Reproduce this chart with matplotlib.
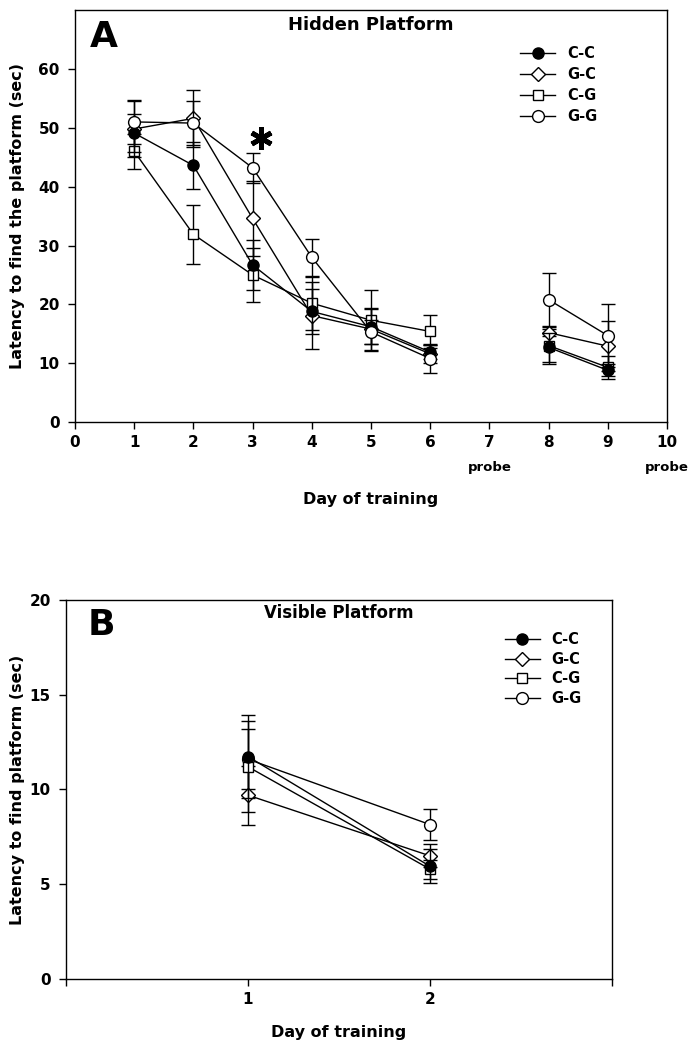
import numpy as np
import matplotlib.pyplot as plt
from matplotlib.lines import Line2D
from matplotlib.transforms import blended_transform_factory

# Panel A: hidden platform (day 7 = probe, no data)
days_a = [1, 2, 3, 4, 5, 6, 7, 8, 9]
cc_a = [49.1, 43.6, 26.7, 18.8, 16.2, 11.9, np.nan, 12.7, 8.8]
cc_a_sem = [3.2, 4.0, 4.3, 3.8, 3.0, 1.2, np.nan, 2.5, 1.0]
gc_a = [49.8, 51.6, 34.6, 18.1, 15.8, 11.6, np.nan, 15.2, 12.9]
gc_a_sem = [4.8, 4.9, 6.4, 5.7, 3.6, 1.5, np.nan, 0.6, 4.2]
cg_a = [46.0, 31.9, 25.0, 20.2, 17.3, 15.4, np.nan, 13.0, 9.3]
cg_a_sem = [3.0, 5.0, 4.6, 4.5, 5.2, 2.8, np.nan, 3.2, 1.9]
gg_a = [51.0, 50.8, 43.2, 28.0, 15.3, 10.8, np.nan, 20.8, 14.7]
gg_a_sem = [3.8, 3.8, 2.5, 3.1, 2.0, 2.4, np.nan, 4.5, 5.4]

# Panel B: visible platform
days_b = [1, 2]
cc_b = [11.74, 5.95]
cc_b_sem = [2.2, 0.9]
gc_b = [9.7, 6.5]
gc_b_sem = [1.55, 0.6]
cg_b = [11.2, 5.8]
cg_b_sem = [2.4, 0.5]
gg_b = [11.6, 8.15]
gg_b_sem = [1.6, 0.8]

groups = ["C-C", "G-C", "C-G", "G-G"]
markers = {"C-C": ("o", "black"), "G-C": ("D", "white"),
           "C-G": ("s", "white"), "G-G": ("o", "white")}
msizes = {"C-C": 8, "G-C": 7, "C-G": 7.5, "G-G": 8.5}

plt.rcParams["font.family"] = "DejaVu Sans"
plt.rcParams["font.weight"] = "bold"

fig = plt.figure(figsize=(6.93, 10.5), dpi=100)
ax1 = fig.add_axes([0.1082, 0.598, 0.8543, 0.3924])
ax2 = fig.add_axes([0.0952, 0.0676, 0.7878, 0.361])


def draw(ax, x, series, order):
    for i, g in enumerate(order):
        y, e = series[g]
        m, fc = markers[g]
        ax.errorbar(x, y, yerr=e, marker=m, markersize=msizes[g],
                    mfc=fc, mec="black", mew=1.0, color="black",
                    lw=1.0, ecolor="black", elinewidth=1.0,
                    capsize=5, capthick=1.0, zorder=3 + i)


def legend_handles():
    hs = []
    for g in groups:
        m, fc = markers[g]
        hs.append(Line2D([], [], color="black", lw=1.0, marker=m,
                         markersize=msizes[g], mfc=fc, mec="black", mew=1.0))
    return hs


series_a = {"C-C": (cc_a, cc_a_sem), "G-C": (gc_a, gc_a_sem),
            "C-G": (cg_a, cg_a_sem), "G-G": (gg_a, gg_a_sem)}
draw(ax1, days_a, series_a, ["C-G", "G-C", "C-C", "G-G"])

series_b = {"C-C": (cc_b, cc_b_sem), "G-C": (gc_b, gc_b_sem),
            "C-G": (cg_b, cg_b_sem), "G-G": (gg_b, gg_b_sem)}
draw(ax2, days_b, series_b, ["G-G", "G-C", "C-G", "C-C"])

tick_font = dict(fontsize=11, fontweight="bold")

# Panel A axes
ax1.set_xlim(0, 10)
ax1.set_ylim(0, 70)
ax1.set_xticks(range(0, 11))
ax1.set_xticklabels([str(i) for i in range(0, 11)], **tick_font)
ax1.set_yticks(range(0, 70, 10))
ax1.set_yticklabels([str(i) for i in range(0, 70, 10)], **tick_font)
ax1.tick_params(direction="out", length=5, width=1)
ax1.tick_params(axis="x", pad=4)
ax1.tick_params(axis="y", pad=6)
ax1.set_xlabel("Day of training", fontsize=11.5, fontweight="bold")
ax1.xaxis.set_label_coords(0.5, -0.17)
ax1.set_ylabel("Latency to find the platform (sec)", fontsize=11.5,
               fontweight="bold")
ax1.yaxis.set_label_coords(-0.084, 0.5)
tr = blended_transform_factory(ax1.transData, ax1.transAxes)
for d in [7, 10]:
    ax1.text(d, -0.11, "probe", transform=tr, ha="center", va="center",
             fontsize=9.5, fontweight="bold")
ax1.text(0.5, 0.964, "Hidden Platform", transform=ax1.transAxes,
         ha="center", va="center", fontsize=13, fontweight="bold")
ax1.text(0.025, 0.935, "A", transform=ax1.transAxes, ha="left", va="center",
         fontsize=26, fontweight="bold")
# significance asterisk above day 3
ax1.plot([3.15], [48.2], marker=(6, 2, 0), markersize=16, mew=3.5,
         color="black", zorder=10)
ax1.legend(legend_handles(), groups, loc="upper left",
           bbox_to_anchor=(0.73, 0.945), frameon=False,
           prop=dict(size=10.5, weight="bold"),
           handlelength=2.4, labelspacing=0.42, handletextpad=0.8)

# Panel B axes
ax2.set_xlim(0, 3)
ax2.set_ylim(0, 20)
ax2.set_xticks([0, 1, 2, 3])
ax2.set_xticklabels(["", "1", "2", ""], **tick_font)
ax2.set_yticks([0, 5, 10, 15, 20])
ax2.set_yticklabels(["0", "5", "10", "15", "20"], **tick_font)
ax2.tick_params(direction="out", length=5, width=1)
ax2.tick_params(axis="x", pad=4)
ax2.tick_params(axis="y", pad=6)
ax2.set_xlabel("Day of training", fontsize=11.5, fontweight="bold")
ax2.xaxis.set_label_coords(0.5, -0.12)
ax2.set_ylabel("Latency to find platform (sec)", fontsize=11.5,
               fontweight="bold")
ax2.yaxis.set_label_coords(-0.075, 0.5)
ax2.text(0.5, 0.965, "Visible Platform", transform=ax2.transAxes,
         ha="center", va="center", fontsize=12, fontweight="bold")
ax2.text(0.04, 0.934, "B", transform=ax2.transAxes, ha="left", va="center",
         fontsize=26, fontweight="bold")
ax2.legend(legend_handles(), groups, loc="upper left",
           bbox_to_anchor=(0.78, 0.95), frameon=False,
           prop=dict(size=10.5, weight="bold"),
           handlelength=2.4, labelspacing=0.32, handletextpad=0.8)

for ax in (ax1, ax2):
    for s in ax.spines.values():
        s.set_linewidth(1.0)

fig.savefig("out.png", dpi=100)
